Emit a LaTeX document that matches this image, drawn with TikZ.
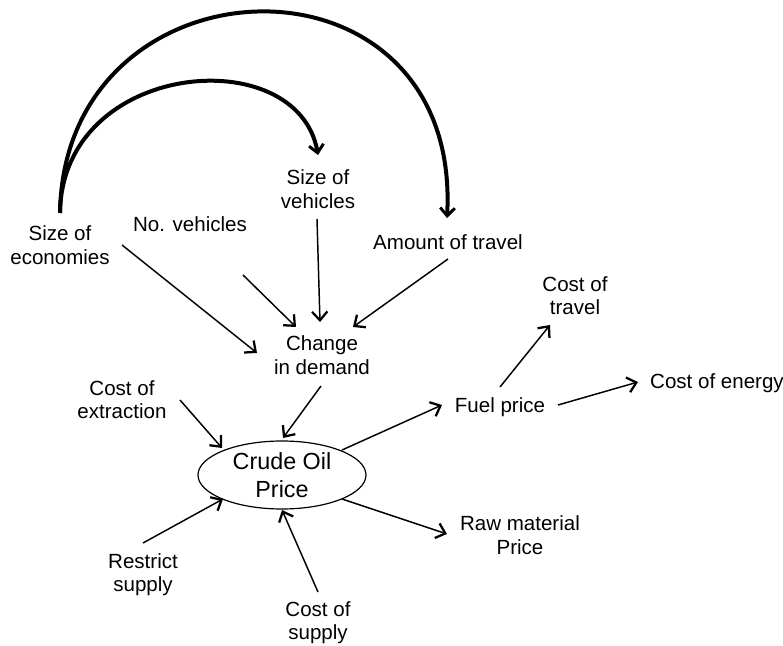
\documentclass[tikz,border=0pt]{standalone}
\usepackage{fontspec}
\setmainfont{Liberation Sans}
\usetikzlibrary{arrows.meta,shapes.geometric}
\begin{document}
\begin{tikzpicture}[x=0.75pt,y=-0.75pt,
  lbl/.style={align=center,font=\fontsize{15.4}{17.5}\selectfont,inner sep=0pt},
  arr/.style={line width=1.1pt,-{Straight Barb[length=6.5pt,width=11.5pt,line width=1.7pt]}},
  bigarc/.style={line width=3pt,-{Straight Barb[length=6pt,width=11pt,line width=2.2pt]}}]
\useasboundingbox (0,0) rectangle (783,646);

% labels
\node[lbl] (econ)   at (60,245)  {Size of\\economies};
\node[lbl] (nveh)   at (190,224) {No. vehicles};
\node[lbl] (sveh)   at (318,189) {Size of\\vehicles};
\node[lbl] (trav)   at (448,242) {Amount of travel};
\node[lbl] (chg)    at (322,355) {Change\\in demand};
\node[lbl] (extr)   at (122,400) {Cost of\\extraction};
\node[draw,ellipse,line width=0.9pt,minimum width=126pt,minimum height=51pt,inner sep=0pt,
      align=center,font=\fontsize{17.5}{21}\selectfont] (crude) at (282,475) {Crude Oil\\Price};
\node[lbl] (fuel)   at (500,407) {Fuel price};
\node[lbl] (ctrav)  at (575,296) {Cost of\\travel};
\node[lbl] (energy) at (717,383) {Cost of energy};
\node[lbl] (raw)    at (520,535) {Raw material\\Price};
\node[lbl] (restr)  at (143,575) {Restrict\\supply};
\node[lbl] (csup)   at (318,623) {Cost of\\supply};

% connector end points
\coordinate (econ-top) at (60,213);
\coordinate (sveh-top) at (318,155);
\coordinate (trav-top) at (447,218);
\coordinate (econ-o)  at (122,245);  \coordinate (chg-w)   at (257,353);
\coordinate (nveh-o)  at (243,275);  \coordinate (chg-nw)  at (296,327);
\coordinate (sveh-o)  at (317,219);  \coordinate (chg-n)   at (320,322);
\coordinate (trav-o)  at (448,259);  \coordinate (chg-ne)  at (353,327);
\coordinate (chg-o)   at (321,386);  \coordinate (crude-n) at (283,438);
\coordinate (extr-o)  at (180,400);  \coordinate (crude-nw) at (222,448);
\coordinate (crude-ne) at (342,450); \coordinate (fuel-w)  at (442,405);
\coordinate (fuel-n)  at (500,387);  \coordinate (ctrav-s) at (550,325);
\coordinate (fuel-e)  at (558,405);  \coordinate (energy-w) at (638,382);
\coordinate (crude-se) at (342,499); \coordinate (raw-w)   at (447,534);
\coordinate (restr-o) at (143,543);  \coordinate (crude-sw) at (223,499);
\coordinate (csup-o)  at (318,592);  \coordinate (crude-s) at (282,510);

% influence of the size of economies
\draw[bigarc] (econ-top) .. controls (62,60) and (298,40) .. (sveh-top);
\draw[bigarc] (econ-top) .. controls (64,-50) and (462,-62) .. (trav-top);

% demand side
\draw[arr] (econ-o) -- (chg-w);
\draw[arr] (nveh-o) -- (chg-nw);
\draw[arr] (sveh-o) -- (chg-n);
\draw[arr] (trav-o) -- (chg-ne);
\draw[arr] (chg-o) -- (crude-n);

% supply side
\draw[arr] (extr-o) -- (crude-nw);
\draw[arr] (restr-o) -- (crude-sw);
\draw[arr] (csup-o) -- (crude-s);

% effects
\draw[arr] (crude-ne) -- (fuel-w);
\draw[arr] (fuel-n) -- (ctrav-s);
\draw[arr] (fuel-e) -- (energy-w);
\draw[arr] (crude-se) -- (raw-w);
\end{tikzpicture}
\end{document}
